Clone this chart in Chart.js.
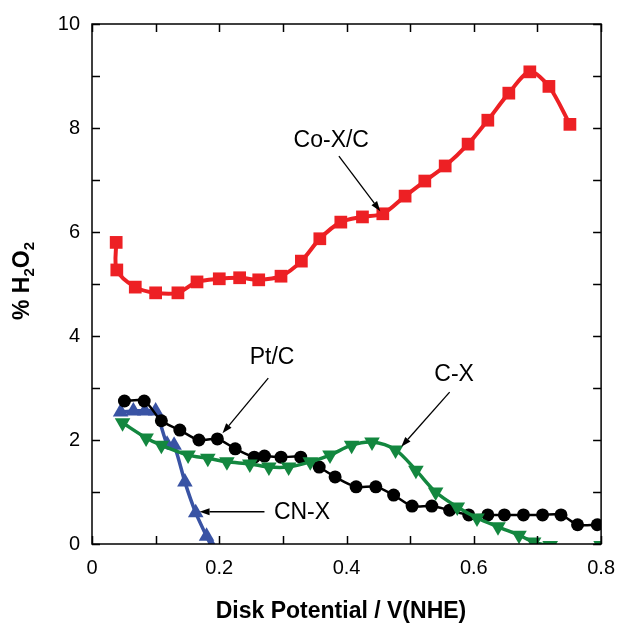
<!DOCTYPE html>
<html>
<head>
<meta charset="utf-8">
<script src="https://cdn.jsdelivr.net/npm/chart.js@4"></script>
<style>
  html, body { margin: 0; padding: 0; background: #fff; }
  #c { display: block; }
</style>
</head>
<body>
<canvas id="c" width="627" height="623"></canvas>
<script>
// ---- Data ----
const coxX = [0.038, 0.039, 0.068, 0.100, 0.135, 0.165, 0.200, 0.232, 0.262, 0.297, 0.329, 0.358, 0.391, 0.425, 0.457, 0.492, 0.523, 0.555, 0.591, 0.622, 0.655, 0.688, 0.718, 0.751];
const coxY = [5.80, 5.27, 4.94, 4.83, 4.83, 5.04, 5.10, 5.12, 5.08, 5.15, 5.44, 5.87, 6.19, 6.29, 6.35, 6.69, 6.98, 7.27, 7.69, 8.15, 8.67, 9.08, 8.80, 8.07];

const ptX = [0.051, 0.082, 0.109, 0.138, 0.168, 0.197, 0.225, 0.255, 0.271, 0.297, 0.328, 0.357, 0.382, 0.415, 0.446, 0.474, 0.503, 0.534, 0.562, 0.592, 0.622, 0.648, 0.678, 0.708, 0.737, 0.763, 0.794];
const ptY = [2.75, 2.75, 2.37, 2.19, 2.00, 2.02, 1.83, 1.67, 1.69, 1.67, 1.67, 1.48, 1.29, 1.10, 1.10, 0.94, 0.73, 0.73, 0.65, 0.56, 0.56, 0.56, 0.56, 0.56, 0.56, 0.37, 0.37];

const cxX = [0.048, 0.085, 0.109, 0.151, 0.182, 0.212, 0.248, 0.278, 0.309, 0.343, 0.374, 0.408, 0.440, 0.477, 0.509, 0.540, 0.574, 0.605, 0.638, 0.671, 0.694, 0.720, 0.800];
const cxY = [2.33, 2.04, 1.90, 1.71, 1.65, 1.58, 1.54, 1.48, 1.48, 1.58, 1.71, 1.90, 1.96, 1.81, 1.42, 1.00, 0.71, 0.50, 0.33, 0.17, 0.04, -0.03, -0.03];

const cnxX = [0.045, 0.065, 0.083, 0.100, 0.118, 0.129, 0.146, 0.163, 0.180, 0.188];
const cnxY = [2.54, 2.56, 2.56, 2.56, 1.92, 1.90, 1.19, 0.60, 0.15, -0.05];

const xTickLabels = ['0', '0.2', '0.4', '0.6', '0.8'];
const yTickLabels = ['0', '2', '4', '6', '8', '10'];

// annotations in data units: label, text position, arrow start, arrow tip
const annLabels = ['Co-X/C', 'Pt/C', 'C-X', 'CN-X'];
const annText = [[0.376, 7.75], [0.283, 3.58], [0.569, 3.25], [0.330, 0.60]];
const annFrom = [[0.388, 7.46], [0.277, 3.19], [0.562, 2.92], [0.271, 0.62]];
const annTo   = [[0.453, 6.40], [0.205, 2.13], [0.486, 1.87], [0.169, 0.62]];

const FONT = '"Liberation Sans", Arial, Helvetica, sans-serif';

function pts(xs, ys) { return xs.map((x, i) => ({ x: x, y: ys[i] })); }

const framePlugin = {
  id: 'frame',
  afterDraw(chart) {
    const ctx = chart.ctx;
    const a = chart.chartArea;
    const xs = chart.scales.x, ys = chart.scales.y;
    ctx.save();
    ctx.strokeStyle = '#000';
    ctx.lineWidth = 1.5;
    ctx.strokeRect(a.left, a.top, a.right - a.left, a.bottom - a.top);
    const tl = 8;
    ctx.beginPath();
    xs.ticks.forEach(t => {
      const px = Math.round(xs.getPixelForValue(t.value)) + 0.5;
      ctx.moveTo(px, a.bottom); ctx.lineTo(px, a.bottom - tl);
      ctx.moveTo(px, a.top); ctx.lineTo(px, a.top + tl);
    });
    ys.ticks.forEach(t => {
      const py = Math.round(ys.getPixelForValue(t.value)) + 0.5;
      ctx.moveTo(a.left, py); ctx.lineTo(a.left + tl, py);
      ctx.moveTo(a.right, py); ctx.lineTo(a.right - tl, py);
    });
    ctx.stroke();

    // annotations
    ctx.fillStyle = '#000';
    ctx.font = '23px ' + FONT;
    ctx.textBaseline = 'middle';
    annLabels.forEach((lab, i) => {
      const tx = xs.getPixelForValue(annText[i][0]);
      const ty = ys.getPixelForValue(annText[i][1]);
      ctx.textAlign = 'center';
      ctx.fillText(lab, tx, ty);
      const x1 = xs.getPixelForValue(annFrom[i][0]), y1 = ys.getPixelForValue(annFrom[i][1]);
      const x2 = xs.getPixelForValue(annTo[i][0]), y2 = ys.getPixelForValue(annTo[i][1]);
      const ang = Math.atan2(y2 - y1, x2 - x1);
      const hl = 10, hw = 3.5;
      const bx = x2 - hl * Math.cos(ang), by = y2 - hl * Math.sin(ang);
      ctx.lineWidth = 1.3;
      ctx.beginPath();
      ctx.moveTo(x1, y1); ctx.lineTo(bx, by);
      ctx.stroke();
      ctx.beginPath();
      ctx.moveTo(x2, y2);
      ctx.lineTo(bx + hw * Math.sin(ang), by - hw * Math.cos(ang));
      ctx.lineTo(bx - hw * Math.sin(ang), by + hw * Math.cos(ang));
      ctx.closePath();
      ctx.fill();
    });

    // x title
    ctx.font = 'bold 23px ' + FONT;
    ctx.textAlign = 'center';
    ctx.textBaseline = 'alphabetic';
    ctx.fillText('Disk Potential / V(NHE)', 341, 618);

    // y title with subscripts
    const parts = [['% H', false], ['2', true], ['O', false], ['2', true]];
    const big = 'bold 23px ' + FONT, small = 'bold 15px ' + FONT;
    let total = 0;
    parts.forEach(p => { ctx.font = p[1] ? small : big; total += ctx.measureText(p[0]).width; });
    ctx.translate(29, (a.top + a.bottom) / 2 - 3);
    ctx.rotate(-Math.PI / 2);
    ctx.textAlign = 'left';
    let cx = -total / 2;
    parts.forEach(p => {
      ctx.font = p[1] ? small : big;
      ctx.fillText(p[0], cx, p[1] ? 5 : 0);
      cx += ctx.measureText(p[0]).width;
    });
    ctx.restore();
  }
};

new Chart(document.getElementById('c'), {
  type: 'line',
  data: {
    datasets: [
      { label: 'Co-X/C', data: pts(coxX, coxY), borderColor: '#ed2024', backgroundColor: '#ed2024',
        borderWidth: 4, pointStyle: 'rect', pointRadius: 9, pointBorderWidth: 0, tension: 0.3 },
      { label: 'C-X', data: pts(cxX, cxY), borderColor: '#13873f', backgroundColor: '#13873f',
        borderWidth: 3.5, pointStyle: 'triangle', pointRotation: 180, pointRadius: 9, pointBorderWidth: 0, tension: 0.3 },
      { label: 'Pt/C', data: pts(ptX, ptY), borderColor: '#000', backgroundColor: '#000',
        borderWidth: 2.5, pointStyle: 'circle', pointRadius: 6.5, pointBorderWidth: 0, tension: 0.3 },
      { label: 'CN-X', data: pts(cnxX, cnxY), borderColor: '#3953a4', backgroundColor: '#3953a4',
        borderWidth: 3.5, pointStyle: 'triangle', pointRadius: 9, pointBorderWidth: 0, tension: 0.2 }
    ]
  },
  options: {
    responsive: false,
    animation: false,
    devicePixelRatio: 1,
    layout: { padding: { top: 24, right: 15, left: 0, bottom: 0 } },
    plugins: { legend: { display: false }, tooltip: { enabled: false } },
    scales: {
      x: {
        type: 'linear', min: 0, max: 0.8,
        grid: { drawOnChartArea: false, drawTicks: false },
        border: { display: false },
        ticks: {
          stepSize: 0.1, autoSkip: false, maxRotation: 0, padding: 12,
          color: '#000', font: { size: 20, family: FONT },
          callback: (v) => { const k = Math.round(v * 10); return k % 2 === 0 ? xTickLabels[k / 2] : ''; }
        },
        afterFit: (s) => { s.height = 79; }
      },
      y: {
        type: 'linear', min: 0, max: 10,
        grid: { drawOnChartArea: false, drawTicks: false },
        border: { display: false },
        ticks: {
          stepSize: 1, autoSkip: false, padding: 12,
          color: '#000', font: { size: 20, family: FONT },
          callback: (v) => { const k = Math.round(v); return k % 2 === 0 ? yTickLabels[k / 2] : ''; }
        },
        afterFit: (s) => { s.width = 92; }
      }
    }
  },
  plugins: [framePlugin]
});
</script>
</body>
</html>
